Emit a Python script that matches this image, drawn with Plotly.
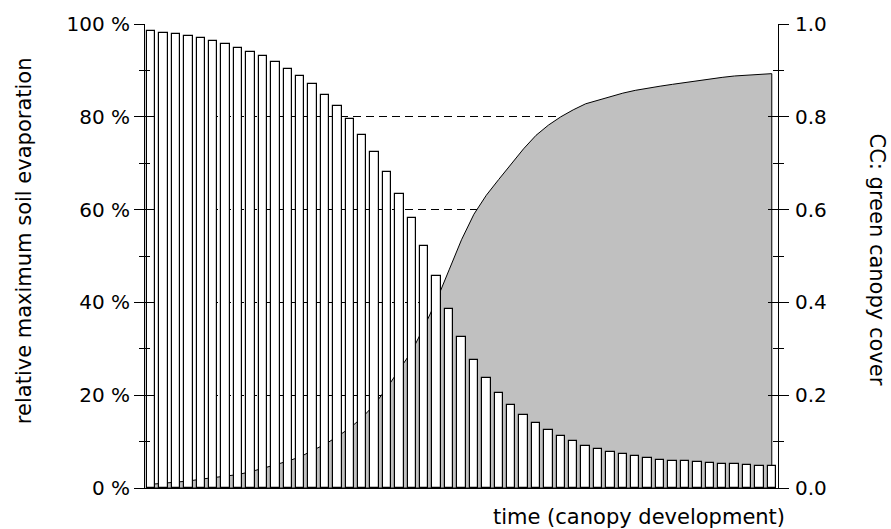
import plotly.graph_objects as go

# ---- data ----
time_steps = list(range(51))

evap_pct = [98.4, 98.1, 97.8, 97.4, 96.9, 96.4, 95.7, 94.9, 94.0, 93.0,
            91.8, 90.4, 88.8, 87.0, 84.8, 82.3, 79.5, 76.1, 72.5, 68.1,
            63.3, 58.1, 52.1, 45.7, 38.5, 32.5, 27.6, 23.8, 20.5, 17.9,
            15.7, 14.0, 12.4, 11.2, 10.1, 9.1, 8.5, 7.8, 7.4, 6.8,
            6.4, 6.1, 5.9, 5.8, 5.6, 5.4, 5.2, 5.1, 4.9, 4.8, 4.8]

cc = [0.008, 0.010, 0.012, 0.015, 0.019, 0.022, 0.025, 0.029, 0.035, 0.042,
      0.050, 0.058, 0.067, 0.081, 0.094, 0.111, 0.129, 0.152, 0.180, 0.216,
      0.255, 0.295, 0.348, 0.405, 0.470, 0.535, 0.590, 0.631, 0.665, 0.699,
      0.731, 0.760, 0.782, 0.800, 0.815, 0.828, 0.836, 0.843, 0.851, 0.857,
      0.862, 0.866, 0.870, 0.874, 0.878, 0.882, 0.885, 0.888, 0.890, 0.892, 0.893]

left_tickvals = [0, 20, 40, 60, 80, 100]
left_ticktext = ["0 %", "20 %", "40 %", "60 %", "80 %", "100 %"]
left_minor = [10, 30, 50, 70, 90]
right_tickvals = [0.0, 0.2, 0.4, 0.6, 0.8, 1.0]
right_ticktext = ["0.0", "0.2", "0.4", "0.6", "0.8", "1.0"]
right_minor = [0.1, 0.3, 0.5, 0.7, 0.9]

x_title = "time (canopy development)"
left_title = "relative maximum soil evaporation"
right_title = "CC: green canopy cover"

FONT = "DejaVu Sans"
tickfont = dict(family=FONT, size=20, color="black")
titlefont = dict(family=FONT, size=21, color="black")

fig = go.Figure()

# canopy cover area (drawn below the bars)
fig.add_trace(go.Scatter(
    x=time_steps + [time_steps[-1], time_steps[0]],
    y=cc + [0, 0],
    fill="toself", fillcolor="#c0c0c0",
    mode="lines", line=dict(color="black", width=1),
    xaxis="x", yaxis="y", hoverinfo="skip", showlegend=False))

# relative soil evaporation bars
fig.add_trace(go.Bar(
    x=time_steps, y=evap_pct, width=0.68,
    marker=dict(color="white", line=dict(color="black", width=1.2)),
    xaxis="x", yaxis="y2", showlegend=False))

# dummy traces to activate the inner-tick axes
fig.add_trace(go.Scatter(x=[None], y=[None], yaxis="y3", showlegend=False, hoverinfo="skip"))
fig.add_trace(go.Scatter(x=[None], y=[None], yaxis="y4", showlegend=False, hoverinfo="skip"))

fig.update_layout(
    width=891, height=529,
    margin=dict(l=145, r=113, t=20, b=41),
    paper_bgcolor="white", plot_bgcolor="white",
    bargap=0, showlegend=False,
    xaxis=dict(range=[-0.5, 50.5], showline=True, linecolor="black", linewidth=1,
               showgrid=False, zeroline=False, ticks="", showticklabels=False),
    yaxis=dict(side="right", range=[0, 1], tickvals=right_tickvals, ticktext=right_ticktext,
               ticks="outside", ticklen=10, tickcolor="black", tickwidth=1,
               minor=dict(tickvals=right_minor, ticks="outside", ticklen=5, tickcolor="black", showgrid=False),
               showline=True, linecolor="black", linewidth=1,
               showgrid=True, gridcolor="black", gridwidth=1, griddash="8px,5px",
               zeroline=False, tickfont=tickfont, ticklabelstandoff=2),
    yaxis2=dict(overlaying="y", side="left", range=[0, 100],
                tickvals=left_tickvals, ticktext=left_ticktext,
                ticks="outside", ticklen=10, tickcolor="black", tickwidth=1,
                minor=dict(tickvals=left_minor, ticks="outside", ticklen=5, tickcolor="black", showgrid=False),
                showline=True, linecolor="black", linewidth=1,
                showgrid=False, zeroline=False, tickfont=tickfont),
    yaxis3=dict(overlaying="y", side="left", range=[0, 100], tickvals=left_tickvals,
                ticks="inside", ticklen=10, tickcolor="black",
                minor=dict(tickvals=left_minor, ticks="inside", ticklen=5, tickcolor="black", showgrid=False),
                showticklabels=False, showgrid=False, zeroline=False, showline=False),
    yaxis4=dict(overlaying="y", side="right", range=[0, 1], tickvals=right_tickvals,
                ticks="inside", ticklen=10, tickcolor="black",
                minor=dict(tickvals=right_minor, ticks="inside", ticklen=5, tickcolor="black", showgrid=False),
                showticklabels=False, showgrid=False, zeroline=False, showline=False),
    annotations=[
        dict(text=left_title, textangle=-90, xref="paper", yref="paper", x=0, y=0.532,
             xshift=-121, xanchor="center", yanchor="middle", showarrow=False, font=titlefont),
        dict(text=right_title, textangle=90, xref="paper", yref="paper", x=1, y=0.4925,
             xshift=99, xanchor="center", yanchor="middle", showarrow=False, font=titlefont),
        dict(text=x_title, xref="paper", yref="paper", x=0.780, y=-0.062,
             xanchor="center", yanchor="middle", showarrow=False, font=titlefont),
    ],
)

fig.write_html("out.html", config={"displayModeBar": False},
               post_script="document.body.style.margin='0';document.body.style.padding='0';")
